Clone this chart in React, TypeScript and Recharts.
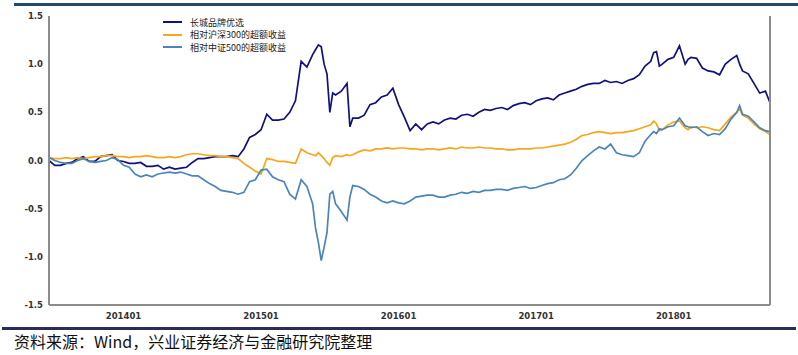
import React from 'react';
import { LineChart, Line, XAxis, YAxis } from 'recharts';

// x position in months counted from 2013-01 (12 = 201401)
const months = [
  5.5, 6, 6.5, 7, 7.5, 8, 8.5, 9, 9.5, 10, 10.5, 11, 11.5,
  12, 12.5, 13, 13.5, 14, 14.5, 15, 15.5, 16, 16.5, 17, 17.5, 18, 18.5, 19, 19.5, 20, 20.5, 21, 21.5, 22, 22.5, 23, 23.5,
  24, 24.5, 25, 25.5, 26, 26.5, 27, 27.5, 28, 28.5, 28.75, 29, 29.25, 29.5, 29.75, 30, 30.25, 30.5, 31, 31.5, 31.75, 32, 32.5, 33, 33.5, 34, 34.5, 35, 35.5,
  36, 36.5, 37, 37.5, 38, 38.5, 39, 39.5, 40, 40.5, 41, 41.5, 42, 42.5, 43, 43.5, 44, 44.5, 45, 45.5, 46, 46.5, 47, 47.5, 48, 48.5, 49, 49.5, 50, 50.5, 51,
  51.5, 52, 52.5, 53, 53.5, 54, 54.5, 55, 55.5, 56, 56.5, 57, 57.5, 58, 58.25, 58.5, 58.75, 59, 59.5,
  60, 60.5, 61, 61.25, 61.5, 62, 62.5, 63, 63.5, 64, 64.5, 65, 65.5, 65.75, 66, 66.5, 67, 67.5, 68, 68.4,
];

// 长城品牌优选
const brandFund = [
  0.0, -0.05, -0.05, -0.03, -0.02, 0.02, 0.04, -0.01, -0.01, 0.04, 0.05, 0.06, 0.0,
  -0.01, -0.03, -0.03, -0.02, -0.06, -0.06, -0.05, -0.09, -0.07, -0.09, -0.08, -0.07, -0.02, 0.02, 0.02, 0.03, 0.04, 0.04, 0.04, 0.05, 0.04, 0.12, 0.24, 0.27,
  0.32, 0.48, 0.42, 0.42, 0.43, 0.5, 0.62, 1.03, 0.97, 1.1, 1.15, 1.2, 1.18, 1.0, 0.9, 0.5, 0.7, 0.68, 0.72, 0.8, 0.35, 0.44, 0.44, 0.47, 0.58, 0.6, 0.66, 0.68, 0.75,
  0.58, 0.45, 0.31, 0.38, 0.32, 0.38, 0.4, 0.38, 0.42, 0.44, 0.43, 0.47, 0.48, 0.46, 0.5, 0.53, 0.52, 0.54, 0.55, 0.53, 0.57, 0.59, 0.6, 0.58, 0.62, 0.64, 0.65, 0.63, 0.68, 0.7, 0.72,
  0.74, 0.77, 0.79, 0.8, 0.8, 0.83, 0.81, 0.82, 0.8, 0.83, 0.85, 0.89, 0.98, 1.03, 1.12, 1.13, 0.98, 1.0, 1.05,
  1.07, 1.19, 1.0, 1.05, 1.07, 1.06, 0.96, 0.93, 0.92, 0.89, 1.0, 1.05, 1.09, 1.0, 0.93, 0.9, 0.8, 0.7, 0.72, 0.6,
];

// 相对沪深300的超额收益
const excessHs300 = [
  0.03, 0.02, 0.02, 0.03, 0.02, 0.03, 0.02, 0.03, 0.04, 0.04, 0.05, 0.05, 0.04,
  0.04, 0.03, 0.04, 0.04, 0.05, 0.04, 0.03, 0.03, 0.04, 0.03, 0.04, 0.06, 0.07, 0.07, 0.06, 0.05, 0.05, 0.04, 0.04, 0.03, 0.02, -0.03, -0.07, -0.11,
  -0.14, 0.02, 0.01, -0.01, -0.01, -0.02, -0.03, 0.12, 0.08, 0.06, 0.05, 0.08, 0.05, 0.02, -0.02, -0.05, 0.03, 0.05, 0.04, 0.06, 0.05, 0.06, 0.09, 0.11, 0.1, 0.12, 0.12, 0.13, 0.12,
  0.13, 0.13, 0.12, 0.12, 0.11, 0.12, 0.12, 0.11, 0.12, 0.13, 0.12, 0.14, 0.13, 0.13, 0.14, 0.13, 0.13, 0.12, 0.12, 0.11, 0.11, 0.12, 0.12, 0.12, 0.13, 0.13, 0.14, 0.15, 0.16, 0.17, 0.19,
  0.22, 0.26, 0.27, 0.29, 0.3, 0.29, 0.28, 0.29, 0.29, 0.3, 0.31, 0.33, 0.35, 0.37, 0.41, 0.38, 0.31, 0.32, 0.37,
  0.4, 0.41, 0.34, 0.32, 0.35, 0.34, 0.35, 0.34, 0.32, 0.31, 0.38, 0.45, 0.5, 0.54, 0.47, 0.44, 0.38, 0.33, 0.3, 0.27,
];

// 相对中证500的超额收益
const excessCsi500 = [
  0.03, 0.0, -0.02, -0.03, -0.03, 0.0, 0.02, -0.01, -0.02, -0.01, 0.0, 0.03, 0.01,
  -0.05, -0.07, -0.14, -0.17, -0.15, -0.17, -0.14, -0.13, -0.12, -0.13, -0.12, -0.14, -0.16, -0.16, -0.2, -0.24, -0.27, -0.31, -0.32, -0.33, -0.35, -0.33, -0.22, -0.2,
  -0.1, -0.09, -0.17, -0.2, -0.22, -0.35, -0.4, -0.2, -0.27, -0.45, -0.7, -0.85, -1.04, -0.9, -0.75, -0.35, -0.32, -0.45, -0.53, -0.62, -0.38, -0.26, -0.27, -0.3, -0.35, -0.38, -0.42, -0.44, -0.42,
  -0.44, -0.45, -0.42, -0.38, -0.37, -0.36, -0.36, -0.38, -0.38, -0.36, -0.35, -0.33, -0.34, -0.32, -0.33, -0.31, -0.31, -0.3, -0.3, -0.31, -0.29, -0.28, -0.27, -0.29, -0.28, -0.26, -0.24, -0.23, -0.2, -0.19, -0.15,
  -0.08, 0.0, 0.05, 0.1, 0.14, 0.12, 0.17, 0.08, 0.06, 0.05, 0.04, 0.08, 0.2, 0.27, 0.3, 0.28, 0.33, 0.32, 0.35,
  0.36, 0.44, 0.36, 0.35, 0.34, 0.35, 0.3, 0.26, 0.28, 0.27, 0.33, 0.43, 0.5, 0.57, 0.48, 0.46, 0.4, 0.34, 0.31, 0.3,
];

const xTicks = [12, 24, 36, 48, 60];
const xTickLabels = ['201401', '201501', '201601', '201701', '201801'];
const yTicks = [-1.5, -1, -0.5, 0, 0.5, 1, 1.5];

const series = [
  { key: 'brand', name: '长城品牌优选', color: '#11117e' },
  { key: 'hs300', name: '相对沪深300的超额收益', color: '#f9a61b' },
  { key: 'csi500', name: '相对中证500的超额收益', color: '#4a85b8' },
];

const data = months.map((m, i) => ({
  m,
  brand: brandFund[i],
  hs300: excessHs300[i],
  csi500: excessCsi500[i],
}));

const axisColor = '#8c8c8c';
const tickStyle = { fill: '#333', fontSize: 8.5, fontWeight: 700, fontFamily: 'DejaVu Sans' };

export default function App() {
  return (
    <div style={{ position: 'absolute', left: 0, top: 0, width: 798, height: 355, background: '#fff' }}>
      {/* header rule */}
      <div style={{ position: 'absolute', left: 14, top: 3, width: 784, height: 2.5, background: '#22496f' }} />
      <LineChart width={798} height={355} data={data} margin={{ top: 16, right: 0, bottom: 0, left: 0 }}>
        <XAxis
          dataKey="m"
          type="number"
          domain={[5.5, 68.4]}
          ticks={xTicks}
          tickFormatter={(v: number) => xTickLabels[xTicks.indexOf(v)] ?? ''}
          tickLine={false}
          tickSize={0}
          tickMargin={8}
          height={50}
          axisLine={{ stroke: axisColor, strokeWidth: 2 }}
          tick={tickStyle}
        />
        <YAxis
          yAxisId="left"
          domain={[-1.5, 1.5]}
          ticks={yTicks}
          tickFormatter={(v: number) => v.toFixed(1)}
          tickLine={false}
          tickSize={0}
          tickMargin={6}
          width={49}
          axisLine={{ stroke: axisColor, strokeWidth: 2 }}
          tick={tickStyle}
        />
        <YAxis
          yAxisId="right"
          orientation="right"
          domain={[-1.5, 1.5]}
          tick={false}
          tickLine={false}
          width={28}
          axisLine={{ stroke: axisColor, strokeWidth: 2 }}
        />
        {series.map((s) => (
          <Line
            key={s.key}
            yAxisId="left"
            dataKey={s.key}
            name={s.name}
            type="linear"
            stroke={s.color}
            strokeWidth={1.7}
            dot={false}
            isAnimationActive={false}
          />
        ))}
      </LineChart>
      {/* legend, drawn over the plot like the original */}
      <div style={{ position: 'absolute', left: 163, top: 16, fontFamily: '"Noto Sans CJK SC"', fontSize: 9, color: '#222' }}>
        {series.map((s) => (
          <div key={s.key} style={{ display: 'flex', alignItems: 'center', height: 12.5 }}>
            <span style={{ display: 'inline-block', width: 19, height: 2, background: s.color, marginRight: 8 }} />
            <span>{s.name}</span>
          </div>
        ))}
      </div>
      {/* footer rule and source note */}
      <div style={{ position: 'absolute', left: 2, top: 327, width: 794, height: 3, background: '#2c2c5c' }} />
      <div
        style={{
          position: 'absolute',
          left: 14,
          top: 332,
          fontSize: 16,
          lineHeight: '18px',
          color: '#111',
          fontFamily: '"Noto Sans CJK SC"',
          whiteSpace: 'nowrap',
        }}
      >
        资料来源：Wind，兴业证券经济与金融研究院整理
      </div>
    </div>
  );
}
